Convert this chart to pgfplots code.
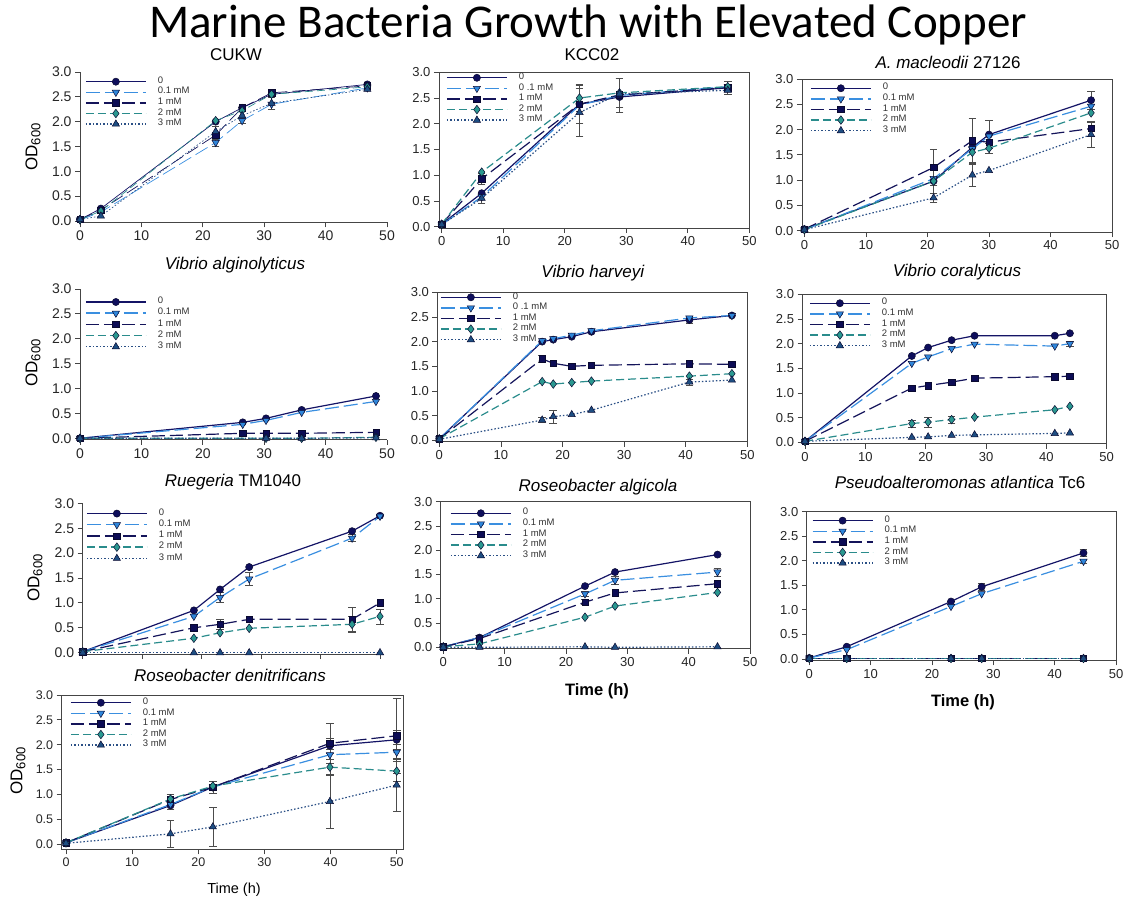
\documentclass[border=0pt]{standalone}
\usepackage{fontspec}
\setmainfont{Liberation Sans}
\newfontfamily\titlefont{Carlito}
\usepackage{pgfplots}
\pgfplotsset{compat=1.18}

\definecolor{c0}{HTML}{141466}
\definecolor{c01}{HTML}{3A8FE0}
\definecolor{c1}{HTML}{14145A}
\definecolor{c2}{HTML}{2A8C8C}
\definecolor{c3}{HTML}{2A4F85}
\definecolor{m0}{HTML}{0E0E5C}
\definecolor{m01}{HTML}{2F86DA}
\definecolor{m1}{HTML}{0C0C55}
\definecolor{m2}{HTML}{2A9890}
\definecolor{m3}{HTML}{1E4E82}
\definecolor{edge}{HTML}{0A0A30}
\definecolor{axc}{HTML}{454545}

\pgfplotsset{
  base/.style={
    anchor=origin,
    xmin=0, xmax=50, ymin=-0.03, ymax=3,
    xtick={0,10,...,50}, ytick={0,0.5,...,3},
    tick align=outside, tick pos=left,
    major tick length=5pt,
    axis line style={axc, line width=0.8pt},
    every tick/.style={axc, line width=0.8pt},
    yticklabel style={/pgf/number format/.cd, fixed, fixed zerofill, precision=1},
    /pgf/number format/assume math mode=true,
    tick label style={font=\fontsize{13}{13}\selectfont, text=black!85},
    clip=false,
    legend cell align=left,
    legend style={draw=none, fill=none, font=\fontsize{9.5}{9.5}\selectfont, text=black!80,
      row sep=0pt, inner sep=0pt, anchor=north west,
      nodes={inner sep=0pt, text height=7pt, text depth=3.6pt}},
    legend image code/.code={\draw[mark repeat=2,mark phase=2,##1,line width=1.4pt] plot coordinates {(0pt,0pt)(30pt,0pt)(60pt,0pt)}; \path[draw=none,fill=none] (0pt,0pt) -- (72pt,0pt);},
  },
  lw/.style={line width=1.2pt},
  s0/.style={c0, lw, solid, mark=*, mark size=3.6pt, mark options={solid, fill=m0, draw=edge, line width=0.5pt}},
  s01/.style={c01, lw, dash pattern=on 14pt off 5pt, mark=triangle*, mark size=4.2pt, mark options={solid, rotate=180, fill=m01, draw=edge, line width=0.5pt}},
  s1/.style={c1, lw, dash pattern=on 13pt off 5pt, mark=square*, mark size=3.2pt, mark options={solid, fill=m1, draw=edge, line width=0.5pt}},
  s2/.style={c2, lw, dash pattern=on 8pt off 4pt, mark=diamond*, mark size=4.3pt, mark options={solid, fill=m2, draw=edge, line width=0.5pt}},
  s3/.style={c3, lw, dash pattern=on 1.5pt off 2pt, mark=triangle*, mark size=4.2pt, mark options={solid, fill=m3, draw=edge, line width=0.5pt}},
  eb/.style={forget plot, draw=none, mark=none,
    error bars/.cd, y dir=both, y explicit,
    error bar style={draw=black!70, solid, line width=0.6pt},
    error mark options={draw=black!70, solid, rotate=90, mark size=3.8pt, line width=0.6pt}},
  noframe/.style={axis x line*=bottom, axis y line*=left},
}

\begin{document}
\begin{tikzpicture}[x=1pt,y=1pt]
\path[use as bounding box] (0,0) rectangle (1136,901);

\node[font=\titlefont\fontsize{47}{47}\selectfont, anchor=base] at (588,863) {Marine Bacteria Growth with Elevated Copper};

% ---------- Panel 1: CUKW
\begin{axis}[base, noframe, at={(80pt,680pt)}, x=6.14pt, y=49.67pt,
  tick label style={font=\fontsize{14}{14}\selectfont},
  lw/.style={line width=0.7pt},
  legend style={at={(axis cs:0.81,2.915)}}]
\addplot[eb] coordinates {(22.1,1.58) +- (0,0.07) (22.1,1.80) +- (0,0.1) (31.2,2.37) +- (0,0.12) (26.4,2.02) +- (0,0.05)};
\addplot[s0] coordinates {(0,0.03) (3.4,0.25) (22.1,2.00) (26.4,2.28) (31.2,2.55) (46.8,2.75)};
\addplot[s01] coordinates {(0,0.02) (3.4,0.18) (22.1,1.58) (26.4,2.02) (31.2,2.35) (46.8,2.68)};
\addplot[s1] coordinates {(0,0.03) (3.4,0.22) (22.1,1.73) (26.4,2.28) (31.2,2.58) (46.8,2.72)};
\addplot[s2] coordinates {(0,0.03) (3.4,0.20) (22.1,2.02) (26.4,2.22) (31.2,2.55) (46.8,2.70)};
\addplot[s3] coordinates {(0,0.03) (3.4,0.10) (22.1,1.80) (26.4,2.12) (31.2,2.37) (46.8,2.65)};
\legend{0,0.1 mM,1 mM,2 mM,3 mM}
\end{axis}

% ---------- Panel 2: KCC02
\begin{axis}[base, at={(441.7pt,674.3pt)}, x=6.152pt, y=51.47pt, xmin=-0.45,
  legend style={at={(axis cs:0.7,3.0)}}]
\addplot[eb] coordinates {(6.5,0.93) +- (0,0.1) (6.5,0.55) +- (0,0.1) (22.4,2.38) +- (0,0.38) (22.4,2.22) +- (0,0.46) (22.4,2.5) +- (0,0.25) (28.9,2.55) +- (0,0.33) (28.9,2.6) +- (0,0.28) (46.5,2.7) +- (0,0.13)};
\addplot[s0] coordinates {(0,0.05) (6.5,0.65) (22.4,2.38) (28.9,2.52) (46.5,2.70)};
\addplot[s01] coordinates {(0,0.04) (6.5,0.58) (22.4,2.36) (28.9,2.55) (46.5,2.72)};
\addplot[s1] coordinates {(0,0.05) (6.5,0.93) (22.4,2.38) (28.9,2.56) (46.5,2.70)};
\addplot[s2] coordinates {(0,0.05) (6.5,1.06) (22.4,2.50) (28.9,2.60) (46.5,2.72)};
\addplot[s3] coordinates {(0,0.04) (6.5,0.55) (22.4,2.22) (28.9,2.58) (46.5,2.65)};
\legend{0,0 .1 mM,1 mM,2 mM,3 mM}
\end{axis}

% ---------- Panel 3: A. macleodii
\begin{axis}[base, at={(804.4pt,670.3pt)}, x=6.152pt, y=50.57pt, xmin=-0.4,
  legend style={at={(axis cs:0.91,2.925)}}]
\addplot[eb] coordinates {(21,1.25) +- (0,0.36) (21,0.98) +- (0,0.25) (21,0.65) +- (0,0.08) (27.3,1.78) +- (0,0.45) (27.3,1.55) +- (0,0.2) (27.3,1.10) +- (0,0.22) (30,1.90) +- (0,0.28) (30,1.63) +- (0,0.1) (46.6,2.58) +- (0,0.17) (46.6,2.02) +- (0,0.15) (46.6,1.90) +- (0,0.25)};
\addplot[s0] coordinates {(0,0.03) (21,0.98) (27.3,1.65) (30,1.90) (46.6,2.58)};
\addplot[s01] coordinates {(0,0.02) (21,1.03) (27.3,1.62) (30,1.87) (46.6,2.46)};
\addplot[s1] coordinates {(0,0.03) (21,1.25) (27.3,1.78) (30,1.75) (46.6,2.02)};
\addplot[s2] coordinates {(0,0.02) (21,0.98) (27.3,1.55) (30,1.63) (46.6,2.33)};
\addplot[s3] coordinates {(0,0.02) (21,0.65) (27.3,1.10) (30,1.19) (46.6,1.90)};
\legend{0,0.1 mM,1 mM,2 mM,3 mM}
\end{axis}

% ---------- Panel 4: Vibrio alginolyticus
\begin{axis}[base, noframe, at={(80pt,462.7pt)}, x=6.14pt, y=49.77pt,
  tick label style={font=\fontsize{14}{14}\selectfont},
  legend style={at={(axis cs:0.81,2.855)}, nodes={text height=7.3pt, text depth=3.9pt}}]
\addplot[s0] coordinates {(0,0.0) (26.5,0.32) (30.3,0.40) (36.1,0.57) (48.2,0.85)};
\addplot[s01] coordinates {(0,0.0) (26.5,0.28) (30.3,0.36) (36.1,0.52) (48.2,0.74)};
\addplot[s1] coordinates {(0,0.0) (26.5,0.10) (30.3,0.10) (36.1,0.10) (48.2,0.12)};
\addplot[s2] coordinates {(0,0.0) (30.3,0.0) (36.1,0.0) (48.2,0.02)};
\addplot[s3] coordinates {(0,0.0) (30.3,0.0) (36.1,0.0) (48.2,0.01)};
\legend{0,0.1 mM,1 mM,2 mM,3 mM}
\end{axis}

% ---------- Panel 5: Vibrio harveyi
\begin{axis}[base, at={(439.3pt,460.7pt)}, x=6.16pt, y=49.33pt, xmin=-0.3,
  legend style={at={(axis cs:0.11,3.01)}}]
\addplot[eb] coordinates {(16.7,1.65) +- (0,0.07) (16.7,0.41) +- (0,0.05) (18.5,0.48) +- (0,0.13) (40.6,2.44) +- (0,0.07) (40.6,1.18) +- (0,0.06)};
\addplot[s0] coordinates {(0,0.03) (16.7,2.00) (18.5,2.04) (21.5,2.10) (24.7,2.20) (40.6,2.44) (47.5,2.53)};
\addplot[s01] coordinates {(0,0.03) (16.7,2.02) (18.5,2.06) (21.5,2.13) (24.7,2.22) (40.6,2.48) (47.5,2.53)};
\addplot[s1] coordinates {(0,0.03) (16.7,1.65) (18.5,1.56) (21.5,1.50) (24.7,1.52) (40.6,1.55) (47.5,1.54)};
\addplot[s2] coordinates {(0,0.03) (16.7,1.19) (18.5,1.14) (21.5,1.17) (24.7,1.20) (40.6,1.30) (47.5,1.35)};
\addplot[s3] coordinates {(0,0.02) (16.7,0.41) (18.5,0.48) (21.5,0.52) (24.7,0.61) (40.6,1.18) (47.5,1.22)};
\legend{0,0 .1 mM,1 mM,2 mM,3 mM}
\end{axis}

% ---------- Panel 6: Vibrio coralyticus
\begin{axis}[base, at={(805pt,458.7pt)}, x=6.034pt, y=49.33pt, xmin=-0.4,
  legend style={at={(axis cs:0.66,2.93)}}]
\addplot[eb] coordinates {(17.7,0.38) +- (0,0.07) (20.4,0.41) +- (0,0.1) (24.3,0.46) +- (0,0.07) (43.9,2.00) +- (0,0.05)};
\addplot[s0] coordinates {(0,0.02) (17.7,1.75) (20.4,1.92) (24.3,2.07) (28.1,2.16) (41.4,2.16) (43.9,2.21)};
\addplot[s01] coordinates {(0,0.02) (17.7,1.60) (20.4,1.73) (24.3,1.90) (28.1,1.99) (41.4,1.95) (43.9,2.00)};
\addplot[s1] coordinates {(0,0.02) (17.7,1.10) (20.4,1.15) (24.3,1.22) (28.1,1.30) (41.4,1.33) (43.9,1.34)};
\addplot[s2] coordinates {(0,0.02) (17.7,0.38) (20.4,0.41) (24.3,0.46) (28.1,0.51) (41.4,0.66) (43.9,0.73)};
\addplot[s3] coordinates {(0,0.02) (17.7,0.10) (20.4,0.11) (24.3,0.14) (28.1,0.15) (41.4,0.18) (43.9,0.19)};
\legend{0,0.1 mM,1 mM,2 mM,3 mM}
\end{axis}

% ---------- Panel 7: Ruegeria TM1040
\begin{axis}[base, noframe, at={(82.7pt,248.3pt)}, x=5.946pt, y=49.8pt, xmax=50.5,
  xticklabels={{},{},{},{},{},{}},
  tick label style={font=\fontsize{14}{14}\selectfont},
  legend style={at={(axis cs:0.55,2.91)}, nodes={text height=7.3pt, text depth=3.9pt}}]
\addplot[eb] coordinates {(23.1,1.11) +- (0,0.1) (28,1.48) +- (0,0.13) (45.3,2.30) +- (0,0.07) (18.7,0.50) +- (0,0.08) (23.1,0.57) +- (0,0.1) (45.3,0.67) +- (0,0.25) (45.3,0.57) +- (0,0.17) (50,0.73) +- (0,0.15)};
\addplot[s0] coordinates {(0,0.02) (18.7,0.85) (23.1,1.27) (28,1.72) (45.3,2.44) (50,2.75)};
\addplot[s01] coordinates {(0,0.02) (18.7,0.73) (23.1,1.11) (28,1.48) (45.3,2.30) (50,2.74)};
\addplot[s1] coordinates {(0,0.02) (18.7,0.50) (23.1,0.57) (28,0.67) (45.3,0.67) (50,1.00)};
\addplot[s2] coordinates {(0,0.02) (18.7,0.29) (23.1,0.40) (28,0.49) (45.3,0.57) (50,0.73)};
\addplot[s3] coordinates {(0,0.0) (18.7,0.0) (23.1,0.0) (28,0.0) (50,0.0)};
\legend{0,0.1 mM,1 mM,2 mM,3 mM}
\end{axis}

% ---------- Panel 8: Roseobacter algicola
\begin{axis}[base, at={(443.3pt,253.7pt)}, x=6.134pt, y=48.53pt, xmin=-0.4,
  legend style={at={(axis cs:1.09,2.875)}}]
\addplot[eb] coordinates {(28,1.38) +- (0,0.08) (44.7,1.55) +- (0,0.08) (23.1,0.93) +- (0,0.05) (23.1,1.10) +- (0,0.05)};
\addplot[s0] coordinates {(0,0.01) (5.9,0.20) (23.1,1.26) (28,1.55) (44.7,1.91)};
\addplot[s01] coordinates {(0,0.01) (5.9,0.20) (23.1,1.10) (28,1.38) (44.7,1.55)};
\addplot[s1] coordinates {(0,0.01) (5.9,0.18) (23.1,0.93) (28,1.12) (44.7,1.31)};
\addplot[s2] coordinates {(0,0.01) (5.9,0.07) (23.1,0.62) (28,0.85) (44.7,1.13)};
\addplot[s3] coordinates {(0,0.0) (5.9,0.0) (23.1,0.01) (28,0.0) (44.7,0.01)};
\legend{0,0.1 mM,1 mM,2 mM,3 mM}
\end{axis}

% ---------- Panel 9: Pseudoalteromonas atlantica Tc6
\begin{axis}[base, at={(809.3pt,242pt)}, x=6.134pt, y=49.1pt, xmin=-0.4,
  legend style={at={(axis cs:0.39,2.93)}}]
\addplot[eb] coordinates {(28.1,1.47) +- (0,0.08) (44.7,2.16) +- (0,0.07) (44.7,1.99) +- (0,0.05)};
\addplot[s0] coordinates {(0,0.02) (6.1,0.25) (23.1,1.17) (28.1,1.47) (44.7,2.16)};
\addplot[s01] coordinates {(0,0.02) (6.1,0.19) (23.1,1.07) (28.1,1.33) (44.7,1.99)};
\addplot[s1] coordinates {(0,0.01) (6.1,0.01) (23.1,0.01) (28.1,0.01) (44.7,0.01)};
\addplot[s2] coordinates {(0,0.01) (6.1,0.01) (23.1,0.01) (28.1,0.01) (44.7,0.01)};
\addplot[s3] coordinates {(0,0.01) (6.1,0.01) (23.1,0.01) (28.1,0.01) (44.7,0.01)};
\legend{0,0.1 mM,1 mM,2 mM,3 mM}
\end{axis}

% ---------- Panel 10: Roseobacter denitrificans
\begin{axis}[base, at={(66pt,56.7pt)}, x=6.614pt, y=49.77pt, xmin=-0.65, xmax=51, ymin=-0.1,
  tick label style={font=\fontsize{12.5}{12.5}\selectfont},
  legend style={at={(axis cs:0.6,2.955)}}]
\addplot[eb] coordinates {(15.8,0.78) +- (0,0.08) (22.2,1.15) +- (0,0.12) (39.9,1.98) +- (0,0.15) (50,2.10) +- (0,0.2) (39.9,1.80) +- (0,0.1) (50,1.85) +- (0,0.15) (15.8,0.90) +- (0,0.1) (39.9,2.03) +- (0,0.4) (50,2.18) +- (0,0.75) (39.9,1.55) +- (0,0.15) (50,1.47) +- (0,0.2) (15.8,0.21) +- (0,0.28) (22.2,0.35) +- (0,0.4) (39.9,0.86) +- (0,0.53) (50,1.19) +- (0,0.53)};
\addplot[s0] coordinates {(0,0.03) (15.8,0.78) (22.2,1.15) (39.9,1.98) (50,2.10)};
\addplot[s01] coordinates {(0,0.03) (15.8,0.80) (22.2,1.15) (39.9,1.80) (50,1.85)};
\addplot[s1] coordinates {(0,0.03) (15.8,0.90) (22.2,1.15) (39.9,2.03) (50,2.18)};
\addplot[s2] coordinates {(0,0.03) (15.8,0.91) (22.2,1.17) (39.9,1.55) (50,1.47)};
\addplot[s3] coordinates {(0,0.02) (15.8,0.21) (22.2,0.35) (39.9,0.86) (50,1.19)};
\legend{0,0.1 mM,1 mM,2 mM,3 mM}
\end{axis}

% ---------- titles and labels
\tikzset{ptitle/.style={font=\fontsize{17}{17}\selectfont, anchor=base}}
\node[ptitle] at (236,840) {CUKW};
\node[ptitle] at (592,840) {KCC02};
\node[ptitle] at (948,832) {\textit{A. macleodii} 27126};
\node[ptitle] at (235,631) {\textit{Vibrio alginolyticus}};
\node[ptitle] at (593,623) {\textit{Vibrio harveyi}};
\node[ptitle] at (957,624) {\textit{Vibrio coralyticus}};
\node[ptitle] at (233,414) {\textit{Ruegeria} TM1040};
\node[ptitle] at (598,409) {\textit{Roseobacter algicola}};
\node[ptitle] at (960,412) {\textit{Pseudoalteromonas atlantica} Tc6};
\node[ptitle] at (230,219) {\textit{Roseobacter denitrificans}};

\tikzset{odl/.style={font=\fontsize{17}{17}\selectfont, rotate=90}}
\node[odl] at (33,754) {OD{\fontsize{13}{13}\selectfont\raisebox{-3pt}{600}}};
\node[odl] at (33,538) {OD{\fontsize{13}{13}\selectfont\raisebox{-3pt}{600}}};
\node[odl] at (35,323) {OD{\fontsize{13}{13}\selectfont\raisebox{-3pt}{600}}};
\node[odl] at (18,130) {OD{\fontsize{13}{13}\selectfont\raisebox{-3pt}{600}}};

\node[font=\bfseries\fontsize{16.5}{16.5}\selectfont, anchor=base] at (597,205) {Time (h)};
\node[font=\bfseries\fontsize{16.5}{16.5}\selectfont, anchor=base] at (963,194) {Time (h)};
\node[font=\fontsize{14.5}{14.5}\selectfont, anchor=base] at (234,7) {Time (h)};
\end{tikzpicture}
\end{document}
